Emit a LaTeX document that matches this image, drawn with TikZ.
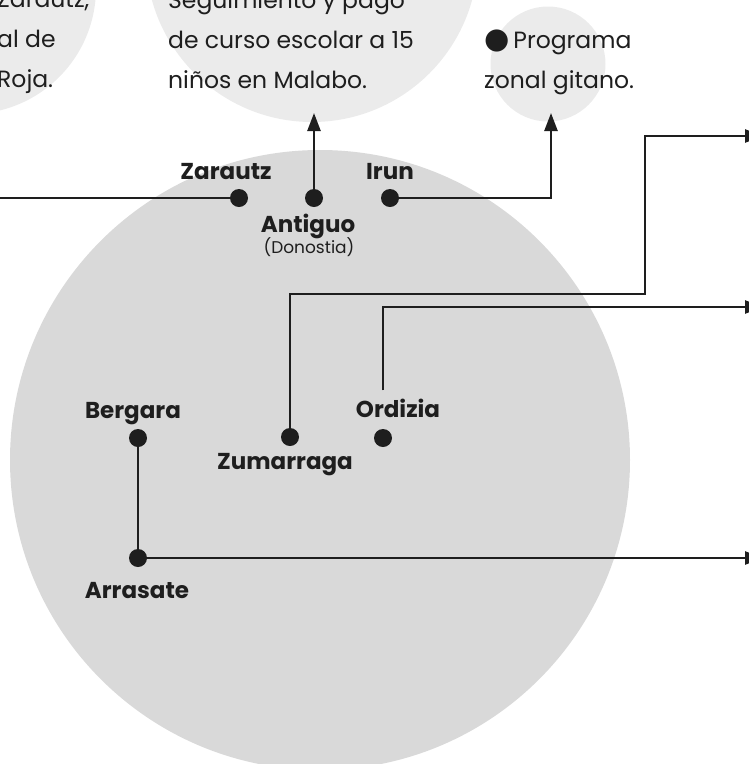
\documentclass[tikz,border=0pt]{standalone}
\usepackage{fontspec}
\setmainfont{Poppins}
\newfontfamily\symbolfont{DejaVu Sans}
\usepackage{tikz}
\usetikzlibrary{arrows.meta,calc,positioning}
\definecolor{mydark}{RGB}{30,30,30}
\definecolor{mybubble}{RGB}{235,235,235}
\definecolor{mydisk}{RGB}{217,217,217}

\tikzset{
    dot/.style={circle, fill=mydark, inner sep=0pt, minimum size=18pt},
    place/.style={font=\bfseries\fontsize{23}{24}\selectfont, text=mydark, inner sep=0pt},
    note/.style={font=\fontsize{23.5}{40}\selectfont, text=mydark, align=left, inner sep=0pt},
    link/.style={draw=mydark, line width=2.5pt},
    tip/.style={-{Triangle[length=18pt, width=13pt]}}
}

\begin{document}
\begin{tikzpicture}[x=1pt, y=-1pt]
    \useasboundingbox (0,0) rectangle (748,764);
    % Bubbles
    \fill[mybubble] (-30,-12) circle (126);
    \fill[mybubble] (312,-44) circle (166);
    \fill[mybubble] (548,64) circle (57.5);
    \fill[mydisk] (320,460) circle (310);
    % Notes (anchored at their last line)
    \node[note, anchor=base west] (noteLeft) at (-3,87) {Zarautz,\\al de\\Roja.};
    \node[note, anchor=base west] (noteMalabo) at (168,88) {Seguimiento y pago\\de curso escolar a 15\\ni\~nos en Malabo.};
    \node[note, anchor=base west] (noteGitano) at (484,88) {{\symbolfont\fontsize{29}{29}\selectfont ●}\,Programa\\zonal gitano.};
    % Towns
    \node[dot] (zarautz) at (239,198) {};
    \node[dot] (antiguo) at (314,198) {};
    \node[dot] (irun) at (390,198) {};
    \node[dot] (bergara) at (138,438) {};
    \node[dot] (zumarraga) at (290,437) {};
    \node[dot] (ordizia) at (383,438) {};
    \node[dot] (arrasate) at (138,558) {};
    % Town names
    \node[place, anchor=base] (lblZarautz) at ($(zarautz) + (-13,-19)$) {Zarautz};
    \node[place, anchor=base] (lblIrun) at ($(irun) + (0,-19)$) {Irun};
    \node[place, anchor=base] (lblAntiguo) at ($(antiguo) + (-6,34)$) {Antiguo};
    \node[font=\fontsize{17}{18}\selectfont, text=mydark, inner sep=0pt, anchor=base] (lblDonostia) at ($(antiguo) + (-5,55)$) {(Donostia)};
    \node[place, anchor=base] (lblBergara) at ($(bergara) + (-5,-20)$) {Bergara};
    \node[place, anchor=base] (lblOrdizia) at ($(ordizia) + (15,-21)$) {Ordizia};
    \node[place, anchor=base] (lblZumarraga) at ($(zumarraga) + (-5,32)$) {Zumarraga};
    \node[place, anchor=base] (lblArrasate) at ($(arrasate) + (-1,40)$) {Arrasate};
    % Connectors
    \coordinate (zarautzEnd) at (-10,198);
    \coordinate (antiguoTip) at (314,113);
    \coordinate (irunTip) at (551,113);
    \coordinate (zumCorner) at (645,294);
    \coordinate (zumTip) at (763,136);
    \coordinate (ordTip) at (763,307);
    \coordinate (arrTip) at (763,558);
    \draw[link] (zarautz) -- (zarautzEnd);
    \draw[link, tip] (antiguo) -- (antiguoTip);
    \draw[link, tip] (irun) -| (irunTip);
    \draw[link, tip] (zumarraga) |- (zumCorner) |- (zumTip);
    \draw[link, tip] ($(ordizia |- lblOrdizia.north) + (0,-8)$) |- (ordTip);
    \draw[link] (bergara) -- (arrasate);
    \draw[link, tip] (arrasate) -- (arrTip);
\end{tikzpicture}
\end{document}
